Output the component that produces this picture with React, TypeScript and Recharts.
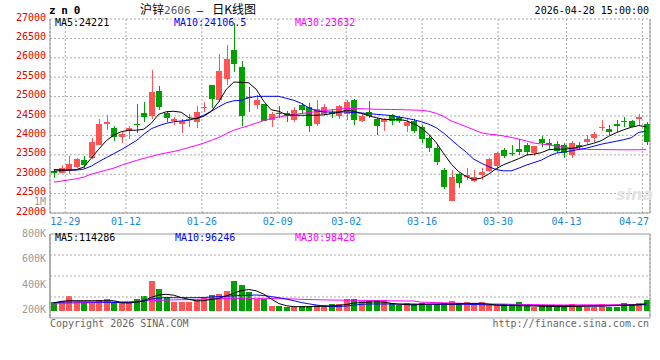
import {
  Bar,
  CartesianGrid,
  Cell,
  ComposedChart,
  Line,
  ReferenceLine,
  XAxis,
  YAxis,
} from "recharts"

// trading days shown (MM-DD), 2025-12-25 .. 2026-04-28
const dates = [
  "12-25", "12-26", "12-29", "12-30", "12-31", "01-05", "01-06", "01-07", "01-08", "01-09",
  "01-12", "01-13", "01-14", "01-15", "01-16", "01-19", "01-20", "01-21", "01-22", "01-23",
  "01-26", "01-27", "01-28", "01-29", "01-30", "02-02", "02-03", "02-04", "02-05", "02-06",
  "02-09", "02-10", "02-11", "02-12", "02-13", "02-24", "02-25", "02-26", "02-27", "03-02",
  "03-03", "03-04", "03-05", "03-06", "03-09", "03-10", "03-11", "03-12", "03-13", "03-16",
  "03-17", "03-18", "03-19", "03-20", "03-23", "03-24", "03-25", "03-26", "03-27", "03-30",
  "03-31", "04-01", "04-02", "04-03", "04-07", "04-08", "04-09", "04-10", "04-13", "04-14",
  "04-15", "04-16", "04-17", "04-20", "04-21", "04-22", "04-23", "04-24", "04-27", "04-28",
]

const opens = [
  23090, 23040, 23070, 23190, 23360, 23420, 23755, 24300, 24195, 23950,
  24115, 24290, 24580, 24495, 25135, 24580, 24365, 24305, 24390, 24350,
  24700, 25290, 24920, 25445, 26210, 25760, 25000, 24780, 24800, 24390,
  24570, 24580, 24400, 24790, 24720, 24300, 24540, 24605, 24500, 24550,
  24905, 24366, 24600, 24420, 24350, 24535, 24480, 24245, 24373, 24220,
  23940, 23683, 23105, 22316, 23002, 22917, 22830, 22976, 23088, 23210,
  23619, 23550, 23645, 23748, 23550, 23920, 23807, 23790, 23748, 23490,
  23765, 23833, 23936, 24180, 24160, 24305, 24365, 24365, 24410, 24289,
]
const highs = [
  23140, 23235, 23470, 23430, 23470, 23940, 24420, 24520, 24240, 24110,
  24230, 24800, 24860, 25680, 25265, 24640, 24480, 24435, 24540, 24750,
  24860, 25300, 26100, 26320, 26900, 25930, 25250, 25030, 24820, 24605,
  24750, 24630, 24735, 24835, 24840, 24900, 24800, 24680, 24790, 24920,
  24950, 24580, 24880, 24460, 24460, 24560, 24500, 24435, 24435, 24262,
  24005, 23790, 23150, 23105, 23040, 23150, 23105, 23165, 23430, 23580,
  23680, 23748, 23895, 23800, 23722, 23990, 23920, 23860, 23807, 23860,
  23835, 24005, 24090, 24390, 24262, 24390, 24476, 24400, 24545, 24348,
]
const lows = [
  22900, 23020, 23010, 23150, 23130, 23390, 23740, 24150, 23850, 23795,
  23910, 24050, 24350, 24435, 24650, 24350, 24265, 24065, 24205, 24200,
  24605, 24700, 24850, 25300, 25630, 24240, 24605, 24690, 24370, 24220,
  24460, 24350, 24350, 24560, 24100, 24240, 24510, 24460, 24430, 24390,
  24280, 24340, 24460, 24005, 24110, 24280, 24330, 24090, 24050, 23807,
  23580, 23233, 22610, 22316, 22640, 22850, 22805, 22850, 23062, 23105,
  23430, 23465, 23490, 23490, 23465, 23705, 23620, 23535, 23430, 23430,
  23640, 23790, 23833, 24117, 24005, 24090, 24205, 24205, 24262, 23748,
]
const closes = [
  23040, 23150, 23270, 23390, 23230, 23820, 24290, 24350, 23960, 24025,
  24195, 24275, 24475, 25120, 24735, 24440, 24420, 24375, 24410, 24600,
  24720, 24930, 25650, 25960, 25850, 24500, 24980, 24905, 24375, 24540,
  24550, 24500, 24648, 24660, 24230, 24690, 24730, 24545, 24750, 24862,
  24400, 24494, 24500, 24237, 24410, 24373, 24373, 24348, 24117, 23895,
  23683, 23323, 22660, 22917, 22763, 22976, 22933, 23062, 23389, 23535,
  23473, 23530, 23560, 23576, 23722, 23807, 23748, 23600, 23550, 23807,
  23705, 23902, 24030, 24220, 24090, 24245, 24340, 24220, 24476, 23833,
]

// moving averages as drawn on the chart
const ma5 = [
  23079, 23092, 23105, 23118, 23182, 23413, 23645, 23863, 24005, 24095,
  24133, 24133, 24159, 24313, 24545, 24609, 24622, 24596, 24455, 24429,
  24493, 24622, 24866, 25187, 25375, 25367, 25355, 25187, 24879, 24660,
  24622, 24532, 24519, 24519, 24519, 24519, 24532, 24558, 24596, 24647,
  24622, 24570, 24506, 24455, 24416, 24408, 24416, 24378, 24300, 24198,
  24030, 23812, 23529, 23259, 23066, 22938, 22861, 22899, 23002, 23143,
  23246, 23323, 23401, 23491, 23516, 23555, 23632, 23645, 23645, 23663,
  23696, 23748, 23799, 23863, 23979, 24069, 24146, 24210, 24254, 24221,
]
const ma10 = [
  23123, 23118, 23105, 23105, 23131, 23208, 23323, 23426, 23529, 23632,
  23748, 23863, 24030, 24172, 24249, 24313, 24352, 24372, 24390, 24442,
  24519, 24622, 24737, 24840, 24892, 24905, 24969, 25007, 25007, 25007,
  25007, 24956, 24905, 24827, 24712, 24635, 24604, 24604, 24604, 24604,
  24588, 24578, 24563, 24545, 24527, 24511, 24475, 24442, 24403, 24352,
  24288, 24198, 24056, 23889, 23722, 23568, 23388, 23285, 23195, 23118,
  23087, 23087, 23156, 23234, 23298, 23362, 23465, 23542, 23575, 23601,
  23637, 23671, 23722, 23773, 23812, 23850, 23889, 23940, 24080, 24106.5,
]
const ma30 = [
  22796, 22822, 22853, 22879, 22925, 23002, 23053, 23105, 23156, 23228,
  23293, 23352, 23408, 23457, 23509, 23550, 23586, 23632, 23689, 23742,
  23799, 23871, 23946, 24043, 24133, 24195, 24252, 24316, 24383, 24432,
  24470, 24506, 24537, 24565, 24588, 24614, 24637, 24658, 24678, 24691,
  24691, 24689, 24681, 24673, 24670, 24668, 24665, 24660, 24653, 24647,
  24622, 24570, 24488, 24372, 24300, 24223, 24146, 24069, 24033, 24015,
  23984, 23948, 23907, 23856, 23804, 23779, 23753, 23727, 23696, 23671,
  23653, 23640, 23636, 23634, 23633, 23631, 23630, 23630, 23631, 23632,
]

const volumes = [
  144000, 160000, 240000, 144000, 144000, 144000, 171000, 187000, 134000, 128000,
  128000, 187000, 240000, 475000, 347000, 224000, 144000, 144000, 144000, 171000,
  208000, 251000, 267000, 320000, 475000, 411000, 299000, 187000, 187000, 75000,
  75000, 64000, 64000, 75000, 75000, 91000, 91000, 107000, 107000, 187000,
  187000, 160000, 171000, 171000, 171000, 128000, 91000, 118000, 102000, 118000,
  91000, 107000, 118000, 155000, 118000, 139000, 102000, 139000, 91000, 91000,
  102000, 102000, 139000, 91000, 64000, 91000, 75000, 75000, 75000, 102000,
  75000, 64000, 64000, 102000, 64000, 64000, 118000, 102000, 118000, 171000,
]
const volMa5 = [
  123000, 150000, 160000, 160000, 160000, 160000, 160000, 160000, 160000, 128000,
  123000, 136000, 160000, 214000, 251000, 262000, 248000, 210000, 182000, 158000,
  160000, 181000, 195000, 238000, 278000, 323000, 339000, 318000, 264000, 187000,
  115000, 80000, 64000, 64000, 64000, 67000, 72000, 78000, 86000, 99000,
  120000, 131000, 136000, 142000, 136000, 118000, 104000, 98000, 91000, 99000,
  106000, 107000, 107000, 107000, 109000, 115000, 118000, 117000, 104000, 91000,
  86000, 83000, 80000, 78000, 75000, 72000, 69000, 66000, 64000, 67000,
  69000, 72000, 75000, 77000, 82000, 85000, 88000, 91000, 96000, 114286,
]
const volMa10 = [
  131000, 136000, 139000, 142000, 142000, 139000, 136000, 134000, 131000, 130000,
  130000, 139000, 155000, 187000, 203000, 208000, 208000, 208000, 208000, 208000,
  211000, 219000, 226000, 232000, 238000, 243000, 248000, 251000, 243000, 226000,
  208000, 187000, 160000, 131000, 110000, 91000, 75000, 66000, 67000, 75000,
  88000, 102000, 107000, 107000, 107000, 107000, 107000, 107000, 107000, 104000,
  102000, 102000, 102000, 102000, 102000, 102000, 99000, 96000, 93000, 91000,
  90000, 88000, 86000, 85000, 83000, 82000, 82000, 80000, 80000, 78000,
  77000, 77000, 75000, 77000, 78000, 82000, 85000, 88000, 91000, 96246,
]
const volMa30 = [
  107000, 114000, 118000, 123000, 130000, 133000, 136000, 139000, 141000, 142000,
  144000, 150000, 155000, 160000, 165000, 170000, 173000, 176000, 178000, 181000,
  186000, 189000, 192000, 195000, 198000, 198000, 198000, 198000, 198000, 195000,
  192000, 189000, 187000, 182000, 179000, 176000, 173000, 171000, 170000, 168000,
  166000, 165000, 163000, 162000, 160000, 158000, 157000, 155000, 155000, 136000,
  133000, 130000, 126000, 123000, 120000, 117000, 114000, 110000, 109000, 107000,
  106000, 102000, 101000, 99000, 98000, 96000, 94000, 93000, 91000, 93000,
  93000, 94000, 94000, 95000, 95000, 96000, 97000, 97000, 98000, 98428,
]

const priceTicks = [22000, 22500, 23000, 23500, 24000, 24500, 25000, 25500, 26000, 26500, 27000]
const volTicks = [200000, 400000, 600000, 800000]
const dateLabels = ["12-29", "01-12", "01-26", "02-09", "03-02", "03-16", "03-30", "04-13", "04-27"]

const MONO = '"DejaVu Sans Mono", monospace'
const CJK = '"Noto Sans CJK SC", sans-serif'
const UP = "#ff5454"
const DOWN = "#00a000"
const GRID = "#aaa"
const FRAME = "#999"

const rows = dates.map((date, i) => ({
  x: i + 0.5,
  date,
  open: opens[i],
  high: highs[i],
  low: lows[i],
  close: closes[i],
  ma5: ma5[i],
  ma10: ma10[i],
  ma30: ma30[i],
  vol: volumes[i],
  vma5: volMa5[i],
  vma10: volMa10[i],
  vma30: volMa30[i],
}))

// sina spreads its date grid over n-1 slots while the candles use n
const GRID_SLOT = dates.length / (dates.length - 1)
const dateTicks = dateLabels.map(l => dates.indexOf(l) * GRID_SLOT)

// volume pane: bars sit a little above the frame bottom
const VOL_DOMAIN = [-116800, 1227200]
// sina's volume labels run 200K (bar base) .. 800K (pane top), not on the bar scale
const volTickValues = volTicks.map(t => ((t - volTicks[0]) / (volTicks[3] - volTicks[0])) * VOL_DOMAIN[1])
const volGridLevels = [1, 2, 3].map(k => VOL_DOMAIN[0] + ((VOL_DOMAIN[1] - VOL_DOMAIN[0]) * k) / 4)

function Candle(props: any) {
  const { x, y, width, height, payload } = props
  if (!payload) return null
  const { open, close, high, low } = payload
  const top = height < 0 ? y + height : y
  const h = Math.abs(height)
  const k = high > low ? h / (high - low) : 0
  const color = close >= open ? UP : DOWN
  const cx = Math.round(x + width / 2) + 0.5
  const bodyTop = top + (high - Math.max(open, close)) * k
  const bodyH = Math.max(1, Math.abs(close - open) * k)
  return (
    <g shapeRendering="crispEdges">
      <line x1={cx} x2={cx} y1={top} y2={top + h} stroke={color} />
      <rect x={x} y={bodyTop} width={width} height={bodyH} fill={color} />
    </g>
  )
}

function PriceTick({ x, y, payload }: any) {
  return (
    <text x={x} y={y} dy={-2} textAnchor="end" dominantBaseline="central"
      fill="#e60000" fontSize={10} fontFamily={MONO}>
      {payload.value}
    </text>
  )
}

function VolTick({ x, y, payload }: any) {
  const label = volTicks[volTickValues.indexOf(payload.value)]
  return (
    <text x={x} y={y} dy={-1} textAnchor="end" dominantBaseline="central"
      fill="#999" fontSize={10} fontFamily={MONO}>
      {label / 1000}K
    </text>
  )
}

function DateTick({ x, y, payload }: any) {
  const label = dateLabels[dateTicks.indexOf(payload.value)]
  const atEdge = x + 15 > 650
  return (
    <text x={atEdge ? 649 : x} y={y} dy="0.71em" textAnchor={atEdge ? "end" : "middle"}
      fill="#1a86d9" fontSize={10} fontFamily={MONO}>
      {label}
    </text>
  )
}

const abs = (left: number, top: number, extra: any = {}) => ({
  position: "absolute" as const,
  left,
  top,
  fontSize: 10,
  lineHeight: "12px",
  whiteSpace: "nowrap" as const,
  ...extra,
})

export default function App() {
  return (
    <div style={{ position: "absolute", left: 0, top: 0, width: 660, height: 360, background: "#fff", fontFamily: MONO, overflow: "hidden" }}>
      <div style={{ position: "absolute", left: 0, top: 0 }}>
        <ComposedChart width={660} height={233} data={rows} margin={{ top: 19, right: 10, bottom: 0, left: 0 }}>
          <CartesianGrid stroke={GRID} strokeDasharray="2 2" />
          <XAxis dataKey="x" type="number" domain={[0, 80]} ticks={dateTicks} interval={0}
            height={20} stroke={FRAME} tickLine={false} tickSize={0} tickMargin={5} tick={<DateTick />} />
          <YAxis type="number" domain={[22000, 27000]} ticks={priceTicks} interval={0} width={50}
            stroke={FRAME} tickLine={false} tickSize={0} tickMargin={4} tick={<PriceTick />} />
          <ReferenceLine x={80} stroke={FRAME} />
          <Bar dataKey={(d: any) => [d.low, d.high]} barSize={6} shape={<Candle />} isAnimationActive={false} />
          <Line dataKey="ma30" type="linear" stroke="#ff00ff" strokeWidth={1} dot={false} activeDot={false} isAnimationActive={false} />
          <Line dataKey="ma10" type="linear" stroke="#0000ff" strokeWidth={1} dot={false} activeDot={false} isAnimationActive={false} />
          <Line dataKey="ma5" type="linear" stroke="#000" strokeWidth={1} dot={false} activeDot={false} isAnimationActive={false} />
        </ComposedChart>
      </div>

      <div style={{ position: "absolute", left: 0, top: 224 }}>
        <ComposedChart width={660} height={96} data={rows} margin={{ top: 10, right: 10, bottom: 2, left: 0 }}>
          <CartesianGrid horizontal={false} stroke={GRID} strokeDasharray="2 2" />
          <XAxis dataKey="x" type="number" domain={[0, 80]} ticks={dateTicks} interval={0}
            height={0} stroke={FRAME} tick={false} tickLine={false} />
          <YAxis type="number" domain={VOL_DOMAIN} ticks={volTickValues} interval={0} width={50}
            stroke={FRAME} tickLine={false} tickSize={0} tickMargin={4} tick={<VolTick />} />
          {volGridLevels.map(v => (
            <ReferenceLine key={v} y={v} stroke={GRID} strokeDasharray="2 2" />
          ))}
          <ReferenceLine y={VOL_DOMAIN[1]} stroke={FRAME} />
          <ReferenceLine y={VOL_DOMAIN[0]} stroke={FRAME} />
          <ReferenceLine x={0} stroke={FRAME} />
          <ReferenceLine x={80} stroke={FRAME} />
          <Bar dataKey="vol" barSize={6} isAnimationActive={false} shape={(p: any) => (
            <rect x={p.x} y={p.y} width={p.width} height={p.height} fill={p.fill} shapeRendering="crispEdges" />
          )}>
            {rows.map((r, i) => (
              <Cell key={i} fill={r.close >= r.open ? UP : DOWN} />
            ))}
          </Bar>
          <Line dataKey="vma30" type="linear" stroke="#ff00ff" strokeWidth={1} dot={false} activeDot={false} isAnimationActive={false} />
          <Line dataKey="vma10" type="linear" stroke="#0000ff" strokeWidth={1} dot={false} activeDot={false} isAnimationActive={false} />
          <Line dataKey="vma5" type="linear" stroke="#000" strokeWidth={1} dot={false} activeDot={false} isAnimationActive={false} />
        </ComposedChart>
      </div>

      {/* header */}
      <div style={abs(49, 4, { fontSize: 11, lineHeight: "13px", fontWeight: "bold", letterSpacing: "5.7px" })}>zn0</div>
      <div style={abs(140, 2, { fontSize: 12, lineHeight: "14px", fontFamily: CJK })}>
        沪锌<span style={{ fontFamily: MONO, fontSize: 11, color: "#555" }}>2606</span>
        <span style={{ fontFamily: MONO, fontSize: 11, margin: "0 9px 0 6px" }}>–</span>日K线图
      </div>
      <div style={{ ...abs(0, 5), left: "auto", right: 11 }}>2026-04-28 15:00:00</div>

      {/* legends */}
      <div style={abs(55, 17)}>MA5:24221</div>
      <div style={abs(174, 17, { color: "#0000ff" })}>MA10:24106.5</div>
      <div style={abs(295, 17, { color: "#ff00ff" })}>MA30:23632</div>
      <div style={abs(55, 232)}>MA5:114286</div>
      <div style={abs(175, 232, { color: "#0000ff" })}>MA10:96246</div>
      <div style={abs(295, 232, { color: "#ff00ff" })}>MA30:98428</div>

      <div style={{ ...abs(0, 198, { color: "#999", lineHeight: "8px" }), left: "auto", right: 614 }}>1M</div>
      <div style={abs(616, 186, { fontSize: 16, lineHeight: "18px", fontFamily: '"DejaVu Sans", sans-serif', fontStyle: "italic", fontWeight: "bold", color: "#e4e4e4" })}>sina</div>

      {/* footer */}
      <div style={abs(50, 318, { color: "#666" })}>Copyright 2026 SINA.COM</div>
      <div style={{ ...abs(0, 318, { color: "#666" }), left: "auto", right: 11 }}>http://finance.sina.com.cn</div>
    </div>
  )
}
